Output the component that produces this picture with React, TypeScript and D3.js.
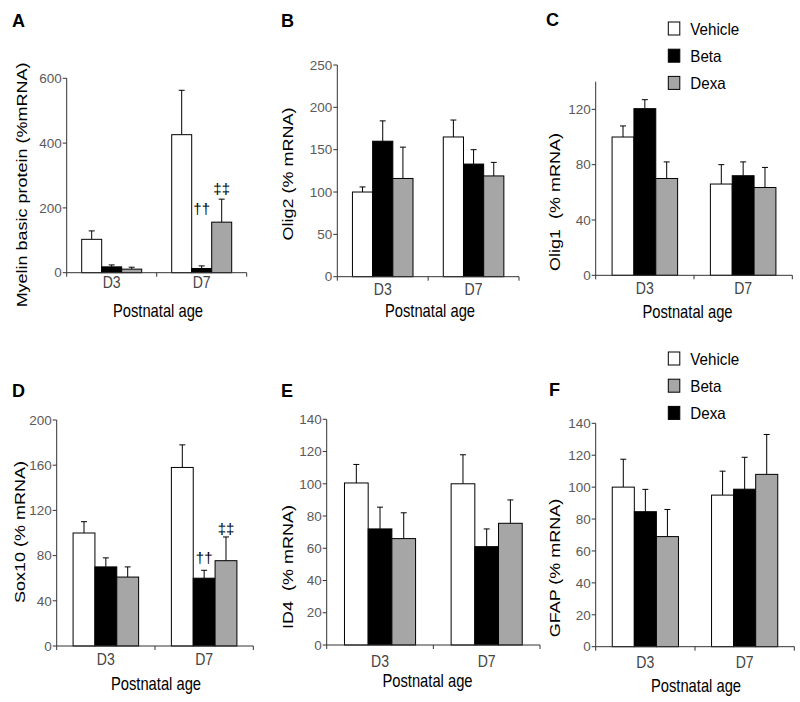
import React from "react";
import * as d3 from "d3";

// ---------- data ----------
const categories = ["D3", "D7"];
const seriesNames = ["Vehicle", "Beta", "Dexa"];
const seriesFills = ["#ffffff", "#000000", "#a6a6a6"];

// Panel A: Myelin basic protein
const mbpMeans = [[103, 426], [18, 13], [11, 156]];
const mbpErrors = [[26, 137], [6, 8], [6, 71]];
// Panel B: Olig2
const olig2Means = [[100, 165], [160, 133], [116, 119]];
const olig2Errors = [[6, 20], [24, 17], [37, 16]];
// Panel C: Olig1
const olig1Means = [[100, 66], [120.5, 72], [70, 63.5]];
const olig1Errors = [[8, 14], [6.5, 10], [12, 14.5]];
// Panel D: Sox10
const sox10Means = [[100, 158], [70, 60], [61, 75.5]];
const sox10Errors = [[10, 20], [8, 7], [9, 21]];
// Panel E: ID4
const id4Means = [[100.5, 100], [72, 61], [66, 75.5]];
const id4Errors = [[11.5, 18], [13.5, 11], [16, 14.5]];
// Panel F: GFAP
const gfapMeans = [[100, 95], [84.6, 98.7], [69, 108]];
const gfapErrors = [[17.5, 15], [14, 20], [17, 25]];

const ticksA = [0, 200, 400, 600];
const ticksB = [0, 50, 100, 150, 200, 250];
const ticksC = [0, 40, 80, 120];
const ticksD = [0, 40, 80, 120, 160, 200];
const ticksE = [0, 20, 40, 60, 80, 100, 120, 140];
const ticksF = [0, 20, 40, 60, 80, 100, 120, 140];

// legend orders (as printed)
const legendC = [
  { label: "Vehicle", fill: "#ffffff" },
  { label: "Beta", fill: "#000000" },
  { label: "Dexa", fill: "#a6a6a6" },
];
const legendF = [
  { label: "Vehicle", fill: "#ffffff" },
  { label: "Beta", fill: "#a6a6a6" },
  { label: "Dexa", fill: "#000000" },
];

const FONT = "'Liberation Sans', Arial, sans-serif";
const SQ = 0.82; // horizontal squeeze of label text in the figure

type Ann = { s: number; c: number; text: string; off: number };

type PanelProps = {
  letter: string;
  letterX: number;
  letterY: number;
  left: number;
  right: number;
  top: number;
  bottom: number;
  max: number;
  ticks: number[];
  means: number[][];
  errors: number[][];
  yLabel: string;
  yLabelX: number;
  yLabelY: number;
  catY: number;
  titleX: number;
  titleY: number;
  annotations?: Ann[];
};

function Panel(p: PanelProps) {
  const x = d3.scaleBand<string>().domain(categories).range([p.left, p.right]).padding(0);
  const bw = x.bandwidth();
  const inner = d3
    .scaleBand<string>()
    .domain(seriesNames)
    .range([bw / 6, (bw * 5) / 6])
    .padding(0);
  const y = d3.scaleLinear().domain([0, p.max]).range([p.bottom, p.top]);
  const axisColor = "#333";
  return (
    <g>
      <g transform={`translate(${p.letterX},${p.letterY}) scale(0.95,1)`}>
        <text fontFamily={FONT} fontWeight="bold" fontSize={19}>
          {p.letter}
        </text>
      </g>
      {/* bars */}
      {seriesNames.map((s, si) =>
        categories.map((c, ci) => {
          const v = p.means[si][ci];
          const e = p.errors[si][ci];
          const bx = (x(c) as number) + (inner(s) as number);
          const cx = bx + inner.bandwidth() / 2;
          return (
            <g key={s + c}>
              <line x1={cx} x2={cx} y1={y(v)} y2={y(v + e)} stroke="#000" strokeWidth={1} />
              <line x1={cx - 3} x2={cx + 3} y1={y(v + e)} y2={y(v + e)} stroke="#000" strokeWidth={1} />
              <rect
                x={bx}
                y={y(v)}
                width={inner.bandwidth()}
                height={p.bottom - y(v)}
                fill={seriesFills[si]}
                stroke="#000"
                strokeWidth={1}
              />
            </g>
          );
        })
      )}
      {/* annotations */}
      {(p.annotations || []).map((a, i) => {
        const s = seriesNames[a.s];
        const c = categories[a.c];
        const cx = (x(c) as number) + (inner(s) as number) + inner.bandwidth() / 2;
        const ty = y(p.means[a.s][a.c] + p.errors[a.s][a.c]) - a.off;
        return (
          <text key={i} x={cx} y={ty} textAnchor="middle" fontFamily={FONT} fontSize={15} fill="#000">
            {a.text}
          </text>
        );
      })}
      {/* y axis */}
      <line x1={p.left} x2={p.left} y1={p.top} y2={p.bottom} stroke={axisColor} strokeWidth={1} />
      {p.ticks.map((t) => (
        <g key={t}>
          <line x1={p.left - 4} x2={p.left} y1={y(t)} y2={y(t)} stroke={axisColor} strokeWidth={1} />
          <text
            x={p.left - 5}
            y={y(t)}
            dy="0.35em"
            textAnchor="end"
            fontFamily={FONT}
            fontSize={13.5}
            fill="#5a5a5a"
          >
            {t}
          </text>
        </g>
      ))}
      {/* x axis */}
      <line x1={p.left} x2={p.right} y1={p.bottom} y2={p.bottom} stroke={axisColor} strokeWidth={1} />
      {[p.left, (x("D7") as number), p.right].map((tx, i) => (
        <line key={i} x1={tx} x2={tx} y1={p.bottom} y2={p.bottom + 4} stroke={axisColor} strokeWidth={1} />
      ))}
      {categories.map((c) => (
        <g key={c} transform={`translate(${(x(c) as number) + bw / 2},${p.catY}) scale(0.88,1)`}>
          <text textAnchor="middle" fontFamily={FONT} fontSize={16} fill="#444">
            {c}
          </text>
        </g>
      ))}
      <g transform={`translate(${p.titleX},${p.titleY}) scale(${SQ},1)`}>
        <text textAnchor="middle" fontFamily={FONT} fontSize={18} fill="#000">
          Postnatal age
        </text>
      </g>
      <g transform={`translate(${p.yLabelX},${p.yLabelY}) scale(${SQ},1) rotate(-90)`}>
        <text textAnchor="middle" dy="0.35em" fontFamily={FONT} fontSize={18} fill="#000" style={{ whiteSpace: "pre" }}>
          {p.yLabel}
        </text>
      </g>
    </g>
  );
}

function Legend({ items, x, y0, step }: { items: { label: string; fill: string }[]; x: number; y0: number; step: number }) {
  return (
    <g>
      {items.map((it, i) => (
        <g key={it.label}>
          <rect x={x} y={y0 + i * step - 13} width={11.5} height={13} fill={it.fill} stroke="#000" strokeWidth={1} />
          <g transform={`translate(${x + 22},${y0 + i * step}) scale(0.92,1)`}>
            <text fontFamily={FONT} fontSize={16.5} fill="#000">
              {it.label}
            </text>
          </g>
        </g>
      ))}
    </g>
  );
}

export default function App() {
  return (
    <svg
      width={800}
      height={702}
      style={{ position: "absolute", left: 0, top: 0, background: "#fff", display: "block" }}
    >
      <rect x={0} y={0} width={800} height={702} fill="#fff" />
      <Panel
        letter="A" letterX={12} letterY={27}
        left={66.7} right={246.7} top={78.3} bottom={272.7} max={600} ticks={ticksA}
        means={mbpMeans} errors={mbpErrors}
        yLabel="Myelin basic protein (%mRNA)" yLabelX={22} yLabelY={185}
        catY={288} titleX={158} titleY={317}
        annotations={[
          { s: 1, c: 1, text: "††", off: 52 },
          { s: 2, c: 1, text: "‡‡", off: 5 },
        ]}
      />
      <Panel
        letter="B" letterX={281} letterY={27}
        left={337.3} right={519} top={65} bottom={276.7} max={250} ticks={ticksB}
        means={olig2Means} errors={olig2Errors}
        yLabel="Olig2 (% mRNA)" yLabelX={288} yLabelY={174}
        catY={295} titleX={430} titleY={317}
      />
      <Panel
        letter="C" letterX={546} letterY={26}
        left={595.7} right={792.3} top={81.7} bottom={275.3} max={140} ticks={ticksC}
        means={olig1Means} errors={olig1Errors}
        yLabel="Olig1  (% mRNA)" yLabelX={555} yLabelY={202}
        catY={293.5} titleX={687.5} titleY={318}
      />
      <Legend items={legendC} x={668.3} y0={35} step={27.2} />
      <Panel
        letter="D" letterX={12} letterY={397}
        left={56.7} right={253.3} top={420} bottom={646} max={200} ticks={ticksD}
        means={sox10Means} errors={sox10Errors}
        yLabel="Sox10 (% mRNA)" yLabelX={20} yLabelY={532}
        catY={665} titleX={156} titleY={690}
        annotations={[
          { s: 1, c: 1, text: "††", off: 7 },
          { s: 2, c: 1, text: "‡‡", off: 3 },
        ]}
      />
      <Panel
        letter="E" letterX={281} letterY={397}
        left={326.7} right={540} top={419.3} bottom={645} max={140} ticks={ticksE}
        means={id4Means} errors={id4Errors}
        yLabel="ID4  (% mRNA)" yLabelX={287.5} yLabelY={567}
        catY={667} titleX={427.5} titleY={687}
      />
      <Panel
        letter="F" letterX={549} letterY={395.5}
        left={595.7} right={794.3} top={423.3} bottom={646.7} max={140} ticks={ticksF}
        means={gfapMeans} errors={gfapErrors}
        yLabel="GFAP (% mRNA)" yLabelX={555} yLabelY={568}
        catY={668} titleX={696} titleY={692}
      />
      <Legend items={legendF} x={668.3} y0={365} step={27.2} />
    </svg>
  );
}
